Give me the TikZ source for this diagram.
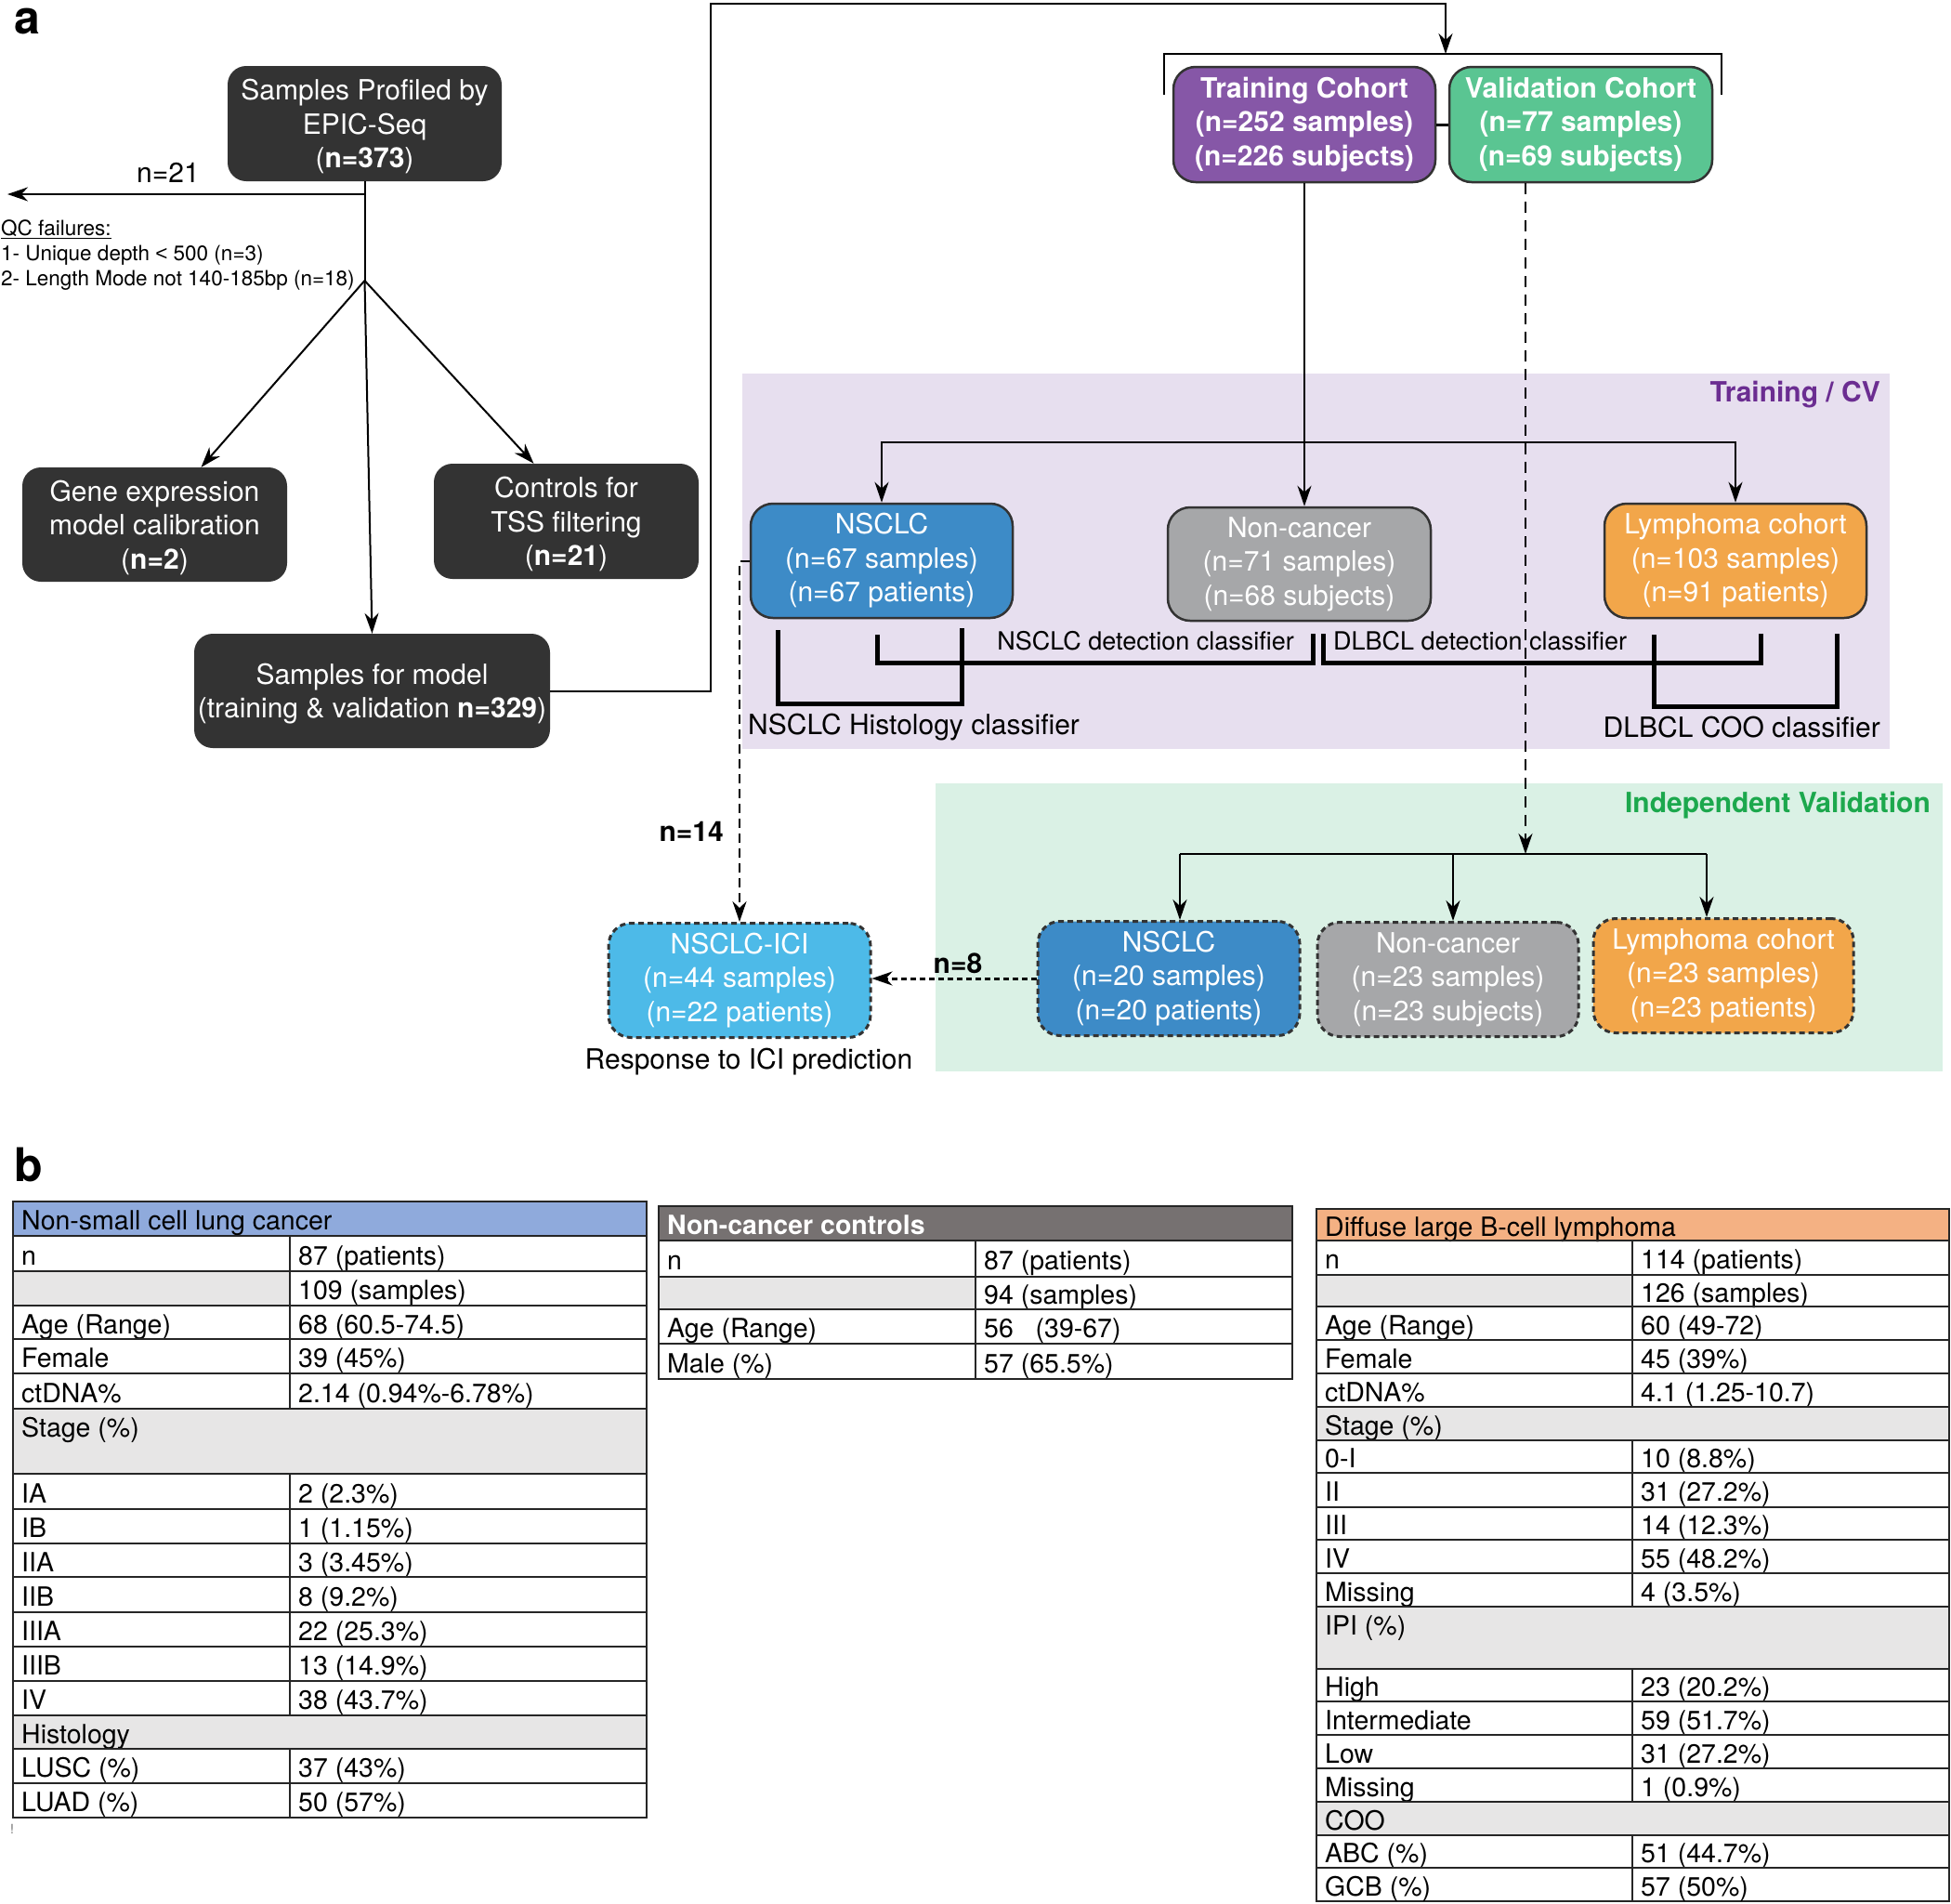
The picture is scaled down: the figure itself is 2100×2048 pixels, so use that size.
\documentclass[tikz,border=0pt]{standalone}
\usepackage{fontspec}
\setmainfont{TeX Gyre Heros}
\newfontfamily\libsans{Liberation Sans}
\usetikzlibrary{arrows.meta}
\definecolor{darkbox}{HTML}{333333}
\definecolor{cpurple}{HTML}{8657A7}
\definecolor{cgreen}{HTML}{5AC592}
\definecolor{cblue}{HTML}{3D8BC7}
\definecolor{cgray}{HTML}{A6A7A9}
\definecolor{corange}{HTML}{F2A64A}
\definecolor{ciblue}{HTML}{4DBAE8}
\definecolor{cvbg}{HTML}{E7DFEF}
\definecolor{ivbg}{HTML}{DAF1E5}
\definecolor{cvtext}{HTML}{6B2D91}
\definecolor{ivtext}{HTML}{1CA84D}
\definecolor{hblue}{HTML}{8FAADC}
\definecolor{horange}{HTML}{F4B183}
\definecolor{hgray}{HTML}{767171}
\definecolor{rowgray}{HTML}{E7E6E6}
\newcommand\fA{\fontsize{30}{36.5}\selectfont}
\newcommand\fB{\fontsize{28.5}{34}\selectfont}
\newcommand\fC{\fontsize{27}{32}\selectfont}
\newcommand\fQ{\fontsize{22.5}{27}\selectfont}
\newcounter{cc}
\newcommand\cellat[3]{\stepcounter{cc}\node[cell] (cell\thecc) at ({#1},{#2+5}) {#3};}
\newcommand\rowW[7]{\draw[tabline] (#1,#4) rectangle (#3,#5) (#2,#4) -- (#2,#5);
  \cellat{#1}{(#4+#5)/2}{#6}\cellat{#2}{(#4+#5)/2}{#7}}
\newcommand\rowG[7]{\fill[rowgray] (#1,#4) rectangle (#2,#5); \rowW{#1}{#2}{#3}{#4}{#5}{#6}{#7}}
\newcommand\rowS[5]{\fill[rowgray] (#1,#3) rectangle (#2,#4); \draw[tabline] (#1,#3) rectangle (#2,#4); \cellat{#1}{#3+18.5}{#5}}
\newcommand\rowH[6]{\fill[#5] (#1,#3) rectangle (#2,#4); \draw[tabline] (#1,#3) rectangle (#2,#4); \cellat{#1}{(#3+#4)/2}{#6}}
\begin{document}
\begin{tikzpicture}[x=1pt,y=-1pt,
  conn/.style={line width=2pt, draw=black},
  arrhead/.style={-{Stealth[length=22pt,width=15pt,inset=7pt]}},
  arr/.style={conn, arrhead},
  dbox/.style={fill=darkbox, rounded corners=20pt, text=white, align=center, inner sep=0pt, font=\fA, text depth=0pt},
  cbox/.style={draw=darkbox, line width=2.5pt, rounded corners=24pt, text=white, align=center, inner sep=0pt, font=\fA, minimum width=282pt, minimum height=123pt},
  vbox/.style={cbox, dash pattern=on 6pt off 4pt, line width=3pt},
  dashln/.style={line width=2pt, dash pattern=on 12pt off 8pt},
  brk/.style={line width=5pt, line cap=butt, line join=miter},
  lab/.style={inner sep=0pt, font=\fA},
  clab/.style={inner sep=0pt, font=\fC},
  tabline/.style={line width=2pt, draw=black!85},
  cell/.style={anchor=west, inner xsep=9pt, inner ysep=0pt, font=\fB, text height=20pt, text depth=6pt},
]
\useasboundingbox (0,0) rectangle (2100,2048);
\fill[white] (0,0) rectangle (2100,2048);
\fill[cvbg] (799,402) rectangle (2034,806);
\fill[ivbg] (1007,843) rectangle (2091,1153);

% ---------- panel a ----------
\node[font=\fontsize{50}{50}\selectfont\bfseries, inner sep=0pt] (la) at (29,23) {a};
\node[dbox, minimum width=295pt, minimum height=124pt] (prof) at (392.5,133) {Samples Profiled by\\EPIC-Seq\\(\textbf{n=373})};
\node[dbox, minimum width=285pt, minimum height=123pt] (gene) at (166.5,564.5) {Gene expression\\model calibration\\(\textbf{n=2})};
\node[dbox, minimum width=285pt, minimum height=124pt] (ctrl) at (609.5,561) {Controls for\\TSS filtering\\(\textbf{n=21})};
\node[dbox, minimum width=383pt, minimum height=123pt] (model) at (400.5,743.5) {Samples for model\\(training \& validation \textbf{n=329})};
\node[lab] (n21) at (181,186) {n=21};
\node[anchor=west, inner sep=0pt, align=left, font=\fQ] (qc) at (1,275) {\underline{QC failures:}\\1- Unique depth {\libsans <} 500 (n=3)\\2- Length Mode not 140-185bp (n=18)};

\coordinate (q1) at (392.5,209);
\coordinate (qend) at (8,209);
\coordinate (br) at (392.5,302);
\draw[conn] (prof.south) -- (br);
\draw[arr] (q1) -- (qend);
\draw[arr] (br) -- ([xshift=50pt]gene.north);
\draw[arr] (br) -- ([xshift=-35pt]ctrl.north);
\draw[arr] (br) -- (model.north);

\coordinate (tp) at (1556,58);
\draw[arr] (model.east) -| (765,4) -| (tp);
\draw[line width=2.5pt] (1253,102) |- (1853,58) -- (1853,102);

\node[cbox, fill=cpurple, font=\fA\bfseries, minimum height=124pt] (train) at (1404,134) {Training Cohort\\(n=252 samples)\\(n=226 subjects)};
\node[cbox, fill=cgreen, font=\fA\bfseries, minimum width=283pt, minimum height=124pt] (valid) at (1701.5,134) {Validation Cohort\\(n=77 samples)\\(n=69 subjects)};
\draw[line width=3pt] (train.east) -- (valid.west);

\node[lab, anchor=east, text=cvtext, font=\fA\bfseries] (cvl) at (2024,425) {Training / CV};
\node[lab, anchor=east, text=ivtext, font=\fA\bfseries] (ivl) at (2078,867) {Independent Validation};

\node[cbox, fill=cblue] (nsclc) at (949,603.5) {NSCLC\\(n=67 samples)\\(n=67 patients)};
\node[cbox, fill=cgray, minimum width=283pt, minimum height=122pt] (nonc) at (1398.5,607) {Non-cancer\\(n=71 samples)\\(n=68 subjects)};
\node[cbox, fill=corange] (lymph) at (1868,603.5) {Lymphoma cohort\\(n=103 samples)\\(n=91 patients)};

\coordinate (hb) at (1404,476);
\draw[conn] (train.south) -- (hb);
\draw[arr] (hb) -- (hb |- nonc.north);
\draw[arr] (hb) -| (nsclc.north);
\draw[arr] (hb) -| (lymph.north);

\draw[brk] (837,678) |- (1035,757) -- (1035,676);
\draw[brk] (944,683) |- (1413,713) -- (1413,682);
\draw[brk] (1424,682) |- (1895,713) -- (1895,682);
\draw[brk] (1780,683) |- (1977,760) -- (1977,682);
\node[clab, anchor=east] (ndc) at (1393,690) {NSCLC detection classifier};
\node[clab, anchor=west] (ddc) at (1435,690) {DLBCL detection classifier};
\node[lab, anchor=west] (nhc) at (805,783) {NSCLC Histology classifier};
\node[lab, anchor=east] (dcc) at (2024,783) {DLBCL COO classifier};

\node[vbox, fill=cblue] (nsclcv) at (1258,1053) {NSCLC\\(n=20 samples)\\(n=20 patients)};
\node[vbox, fill=cgray, minimum width=281pt] (noncv) at (1558.5,1054) {Non-cancer\\(n=23 samples)\\(n=23 subjects)};
\node[vbox, fill=corange, minimum width=280pt] (lymphv) at (1855,1050) {Lymphoma cohort\\(n=23 samples)\\(n=23 patients)};
\node[vbox, fill=ciblue] (ici) at (796,1055) {NSCLC-ICI\\(n=44 samples)\\(n=22 patients)};

\coordinate (vd) at (1642,919);
\draw[dashln, arrhead] ([xshift=-59.5pt]valid.south) -- (vd);
\coordinate (j1) at (1270,919);
\coordinate (j2) at (1564,919);
\coordinate (j3) at (1837,919);
\draw[conn] (j1) -- (j3);
\draw[arr] (j1) -- (j1 |- nsclcv.north);
\draw[arr] (j2) -- (j2 |- noncv.north);
\draw[arr] (j3) -- (j3 |- lymphv.north);

\draw[line width=2pt, dash pattern=on 10pt off 6pt, arrhead] (nsclc.west) -| (ici.north);
\draw[line width=3pt, dash pattern=on 6pt off 4pt, arrhead] (nsclcv.west) -- (nsclcv.west -| ici.east);
\node[lab, font=\fA\bfseries] (n8) at (1031,1037) {n=8};
\node[lab, anchor=east, font=\fA\bfseries] (n14) at (779,895) {n=14};
\node[lab] (resp) at (806,1143) {Response to ICI prediction};

% ---------- panel b ----------
\node[font=\fontsize{50}{50}\selectfont\bfseries, inner sep=0pt] (lb) at (31,1253) {b};
\node[inner sep=0pt, font=\fontsize{14}{16}\selectfont, text=black!60] (excl) at (13,1968) {!};

% table 1
\rowH{14}{696}{1293}{1330}{hblue}{Non-small cell lung cancer}
\rowW{14}{312}{696}{1330}{1368}{n}{87 (patients)}
\rowG{14}{312}{696}{1368}{1405}{}{109 (samples)}
\rowW{14}{312}{696}{1405}{1441}{Age (Range)}{68 (60.5-74.5)}
\rowW{14}{312}{696}{1441}{1478}{Female}{39 (45\%)}
\rowW{14}{312}{696}{1478}{1516}{ctDNA\%}{2.14 (0.94\%-6.78\%)}
\rowS{14}{696}{1516}{1586}{Stage (\%)}
\rowW{14}{312}{696}{1586}{1624}{IA}{2 (2.3\%)}
\rowW{14}{312}{696}{1624}{1661}{IB}{1 (1.15\%)}
\rowW{14}{312}{696}{1661}{1697}{IIA}{3 (3.45\%)}
\rowW{14}{312}{696}{1697}{1735}{IIB}{8 (9.2\%)}
\rowW{14}{312}{696}{1735}{1772}{IIIA}{22 (25.3\%)}
\rowW{14}{312}{696}{1772}{1809}{IIIB}{13 (14.9\%)}
\rowW{14}{312}{696}{1809}{1846}{IV}{38 (43.7\%)}
\rowS{14}{696}{1846}{1882}{Histology}
\rowW{14}{312}{696}{1882}{1919}{LUSC (\%)}{37 (43\%)}
\rowW{14}{312}{696}{1919}{1956}{LUAD (\%)}{50 (57\%)}

% table 2
\rowH{709}{1391}{1298}{1335}{hgray}{\color{white}\bfseries Non-cancer controls}
\rowW{709}{1050}{1391}{1335}{1374}{n}{87 (patients)}
\rowG{709}{1050}{1391}{1374}{1409}{}{94 (samples)}
\rowW{709}{1050}{1391}{1409}{1446}{Age (Range)}{56\ \ \ (39-67)}
\rowW{709}{1050}{1391}{1446}{1484}{Male (\%)}{57 (65.5\%)}

% table 3
\rowH{1417}{2098}{1301}{1335}{horange}{Diffuse large B-cell lymphoma}
\rowW{1417}{1757}{2098}{1335}{1372}{n}{114 (patients)}
\rowG{1417}{1757}{2098}{1372}{1406}{}{126 (samples)}
\rowW{1417}{1757}{2098}{1406}{1442}{Age (Range)}{60 (49-72)}
\rowW{1417}{1757}{2098}{1442}{1478}{Female}{45 (39\%)}
\rowW{1417}{1757}{2098}{1478}{1514}{ctDNA\%}{4.1 (1.25-10.7)}
\rowS{1417}{2098}{1514}{1550}{Stage (\%)}
\rowW{1417}{1757}{2098}{1550}{1585}{0-I}{10 (8.8\%)}
\rowW{1417}{1757}{2098}{1585}{1622}{II}{31 (27.2\%)}
\rowW{1417}{1757}{2098}{1622}{1657}{III}{14 (12.3\%)}
\rowW{1417}{1757}{2098}{1657}{1693}{IV}{55 (48.2\%)}
\rowW{1417}{1757}{2098}{1693}{1729}{Missing}{4 (3.5\%)}
\rowS{1417}{2098}{1729}{1796}{IPI (\%)}
\rowW{1417}{1757}{2098}{1796}{1831}{High}{23 (20.2\%)}
\rowW{1417}{1757}{2098}{1831}{1867}{Intermediate}{59 (51.7\%)}
\rowW{1417}{1757}{2098}{1867}{1903}{Low}{31 (27.2\%)}
\rowW{1417}{1757}{2098}{1903}{1939}{Missing}{1 (0.9\%)}
\rowS{1417}{2098}{1939}{1975}{COO}
\rowW{1417}{1757}{2098}{1975}{2010}{ABC (\%)}{51 (44.7\%)}
\rowW{1417}{1757}{2098}{2010}{2046}{GCB (\%)}{57 (50\%)}
\end{tikzpicture}
\end{document}
